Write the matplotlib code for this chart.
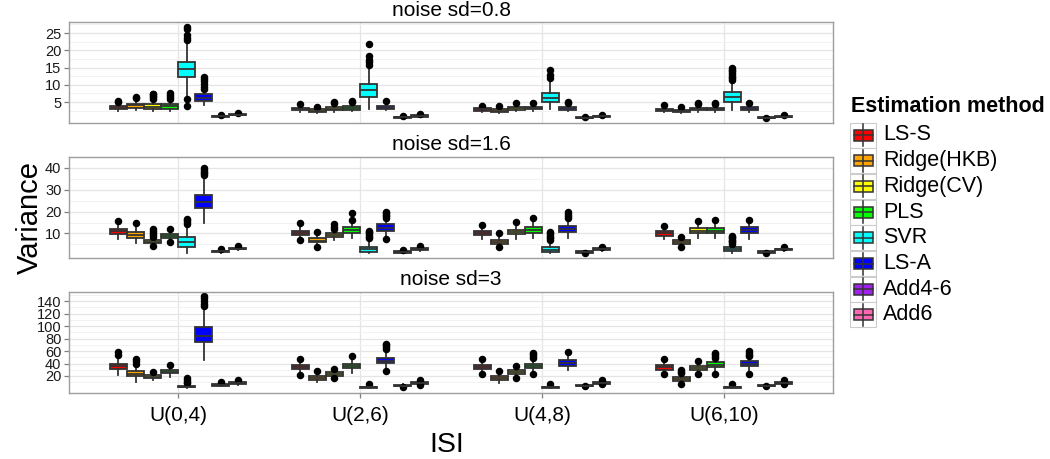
import matplotlib
matplotlib.use('Agg')
import numpy as np
import matplotlib.pyplot as plt
from matplotlib.patches import Rectangle

plt.rcParams['font.family'] = ['Liberation Sans', 'DejaVu Sans']

methods = ['LS-S', 'Ridge(HKB)', 'Ridge(CV)', 'PLS', 'SVR', 'LS-A', 'Add4-6', 'Add6']
colors = ['#FF0000', '#FFA500', '#FFFF00', '#00FF00', '#00FFFF', '#0000FF', '#A020F0', '#FF69B4']
isi_labels = ['U(0,4)', 'U(2,6)', 'U(4,8)', 'U(6,10)']
noise_titles = ['noise sd=0.8', 'noise sd=1.6', 'noise sd=3']
y_ticks = [[5, 10, 15, 20, 25], [10, 20, 30, 40], [20, 40, 60, 80, 100, 120, 140]]

# Box statistics. Rows = ISI, columns = methods.
# ---- noise sd = 0.8
q1_08 = [[3.0, 3.4, 2.9, 3.1, 12.3, 5.4, 0.7, 1.1],
         [2.6, 2.2, 2.6, 2.8, 6.5, 3.0, 0.5, 0.8],
         [2.5, 2.1, 2.8, 2.9, 5.0, 2.8, 0.35, 0.7],
         [2.5, 2.0, 2.6, 2.6, 5.1, 2.6, 0.35, 0.6]]
med_08 = [[3.4, 4.0, 3.6, 3.8, 14.5, 6.25, 0.85, 1.25],
          [2.9, 2.5, 3.0, 3.2, 8.6, 3.4, 0.65, 0.95],
          [2.9, 2.5, 3.2, 3.3, 6.3, 3.2, 0.45, 0.85],
          [2.8, 2.35, 3.0, 3.0, 6.5, 3.0, 0.45, 0.75]]
q3_08 = [[3.9, 4.5, 4.3, 4.4, 16.5, 7.2, 1.0, 1.4],
         [3.3, 2.9, 3.6, 3.8, 10.2, 3.9, 0.8, 1.1],
         [3.2, 2.9, 3.6, 3.7, 7.7, 3.6, 0.55, 1.0],
         [3.1, 2.7, 3.4, 3.4, 7.8, 3.5, 0.55, 0.9]]
lo_08 = [[2.5, 2.8, 2.4, 2.5, 6.5, 4.0, 0.55, 0.9],
         [2.2, 1.9, 2.1, 2.3, 3.0, 2.6, 0.4, 0.6],
         [2.1, 1.8, 2.3, 2.4, 2.9, 2.3, 0.25, 0.55],
         [2.1, 1.7, 2.1, 2.1, 2.7, 2.2, 0.25, 0.5]]
hi_08 = [[4.7, 5.8, 5.6, 5.6, 22.0, 8.4, 1.2, 1.6],
         [3.9, 3.3, 4.3, 4.6, 15.0, 4.6, 1.0, 1.3],
         [3.6, 3.3, 4.2, 4.2, 11.2, 4.3, 0.7, 1.1],
         [3.6, 3.2, 4.0, 4.0, 10.8, 4.2, 0.7, 1.0]]
fl_08 = [[[5.0, 5.3], [6.2, 6.6], [6.0, 6.4, 6.8, 7.2, 7.4], [6.0, 6.5, 7.0, 7.6],
          [3.9, 5.8, 23.0, 23.6, 24.3, 26.2, 26.8], [8.9, 9.5, 10.2, 11.0, 11.8, 12.4], [1.3], [1.8]],
         [[4.3], [3.7], [4.6, 4.9], [5.0, 5.3], [15.8, 16.5, 17.3, 18.3, 21.9], [5.3], [1.0], [1.4]],
         [[3.9], [3.8], [4.6], [4.7], [12.0, 12.8, 14.3], [4.8, 5.1], [0.75], [1.2]],
         [[4.0], [3.7], [4.3, 4.8], [4.3, 4.8], [11.4, 11.9, 12.4, 12.9, 13.4, 13.9, 14.4, 14.9],
          [4.8], [0.45], [1.1]]]

# ---- noise sd = 1.6
q1_16 = [[9.7, 8.0, 5.7, 8.0, 3.8, 21.6, 1.6, 2.7],
         [9.4, 5.9, 8.2, 10.4, 1.7, 11.1, 1.3, 2.3],
         [9.3, 5.4, 9.6, 10.4, 1.6, 10.7, 1.3, 2.3],
         [9.0, 5.4, 10.0, 10.0, 2.0, 10.3, 1.3, 2.4]]
med_16 = [[11.0, 9.3, 6.3, 8.8, 6.0, 24.2, 1.9, 3.0],
          [10.3, 6.8, 9.1, 11.6, 2.8, 12.7, 1.6, 2.9],
          [10.2, 6.3, 10.6, 11.8, 2.6, 12.1, 1.6, 2.9],
          [10.1, 6.3, 11.2, 11.3, 2.8, 11.4, 1.6, 2.7]]
q3_16 = [[12.1, 10.6, 6.9, 9.7, 8.2, 27.6, 2.2, 3.3],
         [11.3, 7.8, 10.0, 12.8, 4.0, 14.2, 1.9, 3.5],
         [11.1, 7.2, 11.7, 13.1, 3.7, 13.2, 1.9, 3.4],
         [11.1, 7.2, 12.4, 12.4, 3.7, 12.8, 1.9, 3.1]]
lo_16 = [[7.6, 5.8, 4.9, 6.8, 1.2, 15.0, 1.2, 2.4],
         [7.8, 4.5, 7.0, 8.0, 0.9, 8.5, 1.0, 1.9],
         [7.6, 4.5, 7.6, 7.9, 0.9, 7.9, 1.0, 2.0],
         [7.4, 4.5, 7.9, 7.9, 0.9, 7.6, 1.1, 2.1]]
hi_16 = [[14.5, 13.5, 7.9, 11.0, 13.8, 35.5, 2.6, 3.8],
         [13.5, 9.8, 11.5, 15.0, 7.4, 16.5, 2.2, 3.9],
         [12.8, 9.0, 13.8, 15.5, 6.5, 16.5, 2.2, 3.8],
         [12.6, 8.0, 14.5, 15.0, 5.0, 15.0, 2.2, 3.5]]
fl_16 = [[[15.6], [14.6], [4.3, 8.5, 9.5, 10.3, 11.2, 12.1], [6.1, 11.9], [14.5, 15.2, 16.0, 16.8],
          [36.5, 37.5, 38.2, 39.0, 39.7], [3.0], [4.3]],
         [[7.0, 14.9], [3.7, 10.7], [12.1, 13.0, 14.2], [16.1, 19.2], [7.8, 8.5, 9.2, 10.0, 10.5, 11.0],
          [7.6, 17.0, 17.8, 18.5, 19.3, 19.9], [2.4], [4.3]],
         [[13.8], [3.7, 10.0], [15.2], [17.0], [7.0, 7.8, 8.6, 9.4, 10.2, 10.7],
          [17.0, 18.0, 19.0, 19.9], [0.9], [4.0]],
         [[13.2], [3.7, 8.6], [15.6], [16.3], [5.4, 6.0, 6.6, 7.2, 7.8, 8.4, 9.0],
          [16.1], [0.9], [4.0]]]

# ---- noise sd = 3
q1_3 = [[31.0, 19.5, 16.8, 24.2, 1.5, 74.5, 4.5, 7.5],
        [31.5, 14.2, 20.5, 32.2, 1.0, 41.0, 3.2, 7.5],
        [31.2, 13.0, 23.6, 32.2, 1.0, 36.5, 3.2, 7.0],
        [30.0, 12.4, 29.0, 34.4, 1.0, 35.4, 3.2, 7.0]]
med_3 = [[35.4, 23.6, 18.7, 27.0, 2.5, 85.0, 5.8, 8.9],
         [34.6, 17.3, 23.0, 35.9, 1.8, 44.5, 4.5, 8.9],
         [34.6, 16.1, 26.8, 36.0, 1.8, 40.8, 4.5, 8.7],
         [33.8, 15.5, 32.2, 38.1, 1.8, 39.1, 4.5, 8.7]]
q3_3 = [[39.7, 27.4, 21.0, 30.0, 3.8, 98.0, 7.0, 10.3],
        [38.0, 20.4, 25.7, 39.7, 3.0, 49.0, 6.0, 10.3],
        [38.0, 19.3, 30.0, 39.7, 3.0, 45.0, 6.0, 10.3],
        [37.6, 18.3, 35.4, 41.8, 3.0, 43.4, 6.0, 10.3]]
lo_3 = [[22.0, 11.0, 13.5, 19.0, 1.0, 46.0, 3.5, 6.0],
        [25.0, 10.0, 17.0, 25.0, 0.5, 32.0, 2.5, 6.0],
        [25.0, 9.0, 19.0, 26.0, 0.5, 30.0, 2.5, 6.0],
        [25.0, 8.5, 25.0, 26.0, 0.5, 26.0, 2.5, 6.0]]
hi_3 = [[50.0, 38.0, 25.0, 35.0, 7.5, 126.0, 8.5, 12.0],
        [44.0, 25.0, 29.5, 48.0, 5.5, 58.0, 7.0, 12.5],
        [44.0, 25.0, 33.0, 46.0, 5.5, 54.0, 7.0, 12.0],
        [44.0, 23.0, 40.0, 47.0, 5.5, 50.0, 7.0, 12.0]]
fl_3 = [[[54.0, 58.0], [40.0, 44.0, 48.0], [27.0], [38.0], [8.7, 11.0, 13.5, 16.0],
         [132.0, 136.0, 140.0, 145.0, 148.0], [9.7], [12.9]],
        [[21.0, 47.8], [27.4], [16.0, 31.2], [51.5], [7.5], [27.4, 63.5, 66.0, 69.0, 72.0], [2.0], [5.0, 14.0]],
        [[23.1, 47.8], [28.5], [16.7, 35.4], [23.1, 49.0, 52.0, 55.0, 57.0], [7.0], [58.0], [4.0], [7.0, 12.9]],
        [[23.1, 47.8], [7.5, 24.8, 27.0, 29.0], [23.1, 43.4], [23.1, 49.0, 52.0, 55.0, 57.0], [7.0],
         [23.1, 51.5, 54.0, 57.0, 59.5], [4.0], [7.0, 12.9]]]

panels = [(q1_08, med_08, q3_08, lo_08, hi_08, fl_08),
          (q1_16, med_16, q3_16, lo_16, hi_16, fl_16),
          (q1_3, med_3, q3_3, lo_3, hi_3, fl_3)]

W, H = 1050, 459
fig = plt.figure(figsize=(W / 100, H / 100), dpi=100)

# panel extents in pixels (top, bottom)
px_left, px_right = 69, 833
px_rows = [(22.3, 123.0), (156.7, 257.7), (291.7, 392.7)]

edge = '#333333'
lw = 1.3
dodge = 0.75 / len(methods)

for p, (q1, med, q3, lo, hi, fl) in enumerate(panels):
    top, bot = px_rows[p]
    ax = fig.add_axes([px_left / W, 1 - bot / H, (px_right - px_left) / W, (bot - top) / H])

    stats, positions = [], []
    for i in range(len(isi_labels)):
        for m in range(len(methods)):
            stats.append(dict(med=med[i][m], q1=q1[i][m], q3=q3[i][m],
                              whislo=lo[i][m], whishi=hi[i][m], fliers=fl[i][m]))
            positions.append(i + 1 + (m - 3.5) * dodge)

    bp = ax.bxp(stats, positions=positions, widths=dodge, patch_artist=True,
                showcaps=False, manage_ticks=False,
                boxprops=dict(edgecolor=edge, linewidth=lw),
                medianprops=dict(color=edge, linewidth=lw),
                whiskerprops=dict(color=edge, linewidth=lw),
                flierprops=dict(marker='o', markerfacecolor='black', markeredgecolor='black',
                                markersize=4.4, linestyle='none'))
    for k, box in enumerate(bp['boxes']):
        box.set_facecolor(colors[k % len(methods)])

    # y range like ggplot: data range + 5%
    vals = np.concatenate([np.ravel(lo), np.ravel(hi)] +
                          [np.array(f) for row in fl for f in row if len(f)])
    vmin, vmax = vals.min(), vals.max()
    r = vmax - vmin
    ax.set_ylim(vmin - 0.05 * r, vmax + 0.05 * r)
    ax.set_xlim(0.4, 4.6)

    ticks = y_ticks[p]
    step = ticks[1] - ticks[0]
    ax.set_yticks(ticks)
    ax.set_yticklabels([str(t) for t in ticks], fontsize=10.5, color='#1A1A1A')
    ax.set_yticks(np.arange(ticks[0] - step / 2, ticks[-1] + step, step), minor=True)
    ax.set_xticks(range(1, len(isi_labels) + 1))
    ax.grid(True, which='major', color='#E5E5E5', linewidth=0.9)
    ax.grid(True, which='minor', axis='y', color='#F2F2F2', linewidth=0.7)
    ax.set_axisbelow(True)
    ax.tick_params(which='minor', length=0)
    ax.tick_params(axis='y', which='major', length=3.5, width=0.9, color='#7F7F7F', pad=2)
    if p == len(panels) - 1:
        ax.set_xticklabels(isi_labels, fontsize=15, color='black')
        ax.tick_params(axis='x', length=3.5, width=0.9, color='#7F7F7F', pad=6)
    else:
        ax.tick_params(axis='x', length=0, labelbottom=False)
    for s in ax.spines.values():
        s.set_color('#9E9E9E')
        s.set_linewidth(1.0)

    ax.annotate(noise_titles[p], xy=(0.5, 1.0), xycoords='axes fraction',
                xytext=(0, 8.5), textcoords='offset points',
                ha='center', va='center', fontsize=15)

fig.text(30 / W, 1 - 218 / H, 'Variance', rotation=90, ha='center', va='center', fontsize=21)
fig.text(447 / W, 1 - 445 / H, 'ISI', ha='center', va='center', fontsize=20.5)

# legend drawn in pixel space
lg = fig.add_axes([0, 0, 1, 1])
lg.set_xlim(0, W)
lg.set_ylim(H, 0)
lg.axis('off')
lg.text(851, 107, 'Estimation method', fontsize=15.5, fontweight='bold', ha='left', va='center')
for k, name in enumerate(methods):
    cy = 135 + k * 25.7
    lg.add_patch(Rectangle((850, cy - 12.5), 26, 25, facecolor='white', edgecolor='#CCCCCC', linewidth=0.8))
    lg.plot([863, 863], [cy - 11, cy + 11], color=edge, linewidth=1.1)
    lg.add_patch(Rectangle((853.5, cy - 5.5), 19, 11, facecolor=colors[k], edgecolor=edge, linewidth=1.1))
    lg.plot([853.5, 872.5], [cy, cy], color=edge, linewidth=1.1)
    lg.text(883, cy, name, fontsize=15.5, ha='left', va='center')

fig.savefig('out.png', dpi=100)
